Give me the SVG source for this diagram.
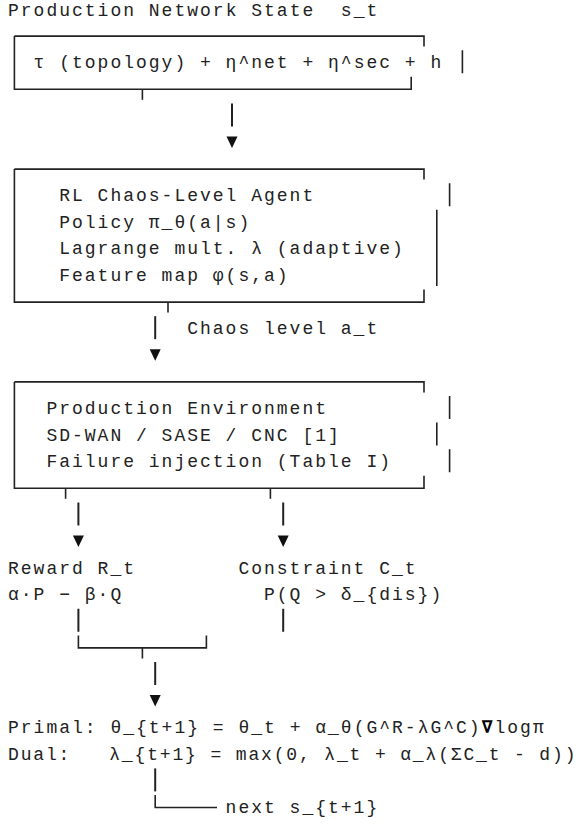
<svg xmlns="http://www.w3.org/2000/svg" width="580" height="825" viewBox="0 0 580 825">
<style>
text{font-family:"Liberation Mono","DejaVu Sans Mono",monospace;font-size:18px;letter-spacing:2px;fill:#222;white-space:pre}
text.tight{letter-spacing:1.85px}
.bold{font-weight:bold;fill:#000}
.b{fill:none;stroke:#222;stroke-width:1.6}
.c{fill:none;stroke:#222;stroke-width:2}
.h{fill:#111}
</style>
<rect width="580" height="825" fill="#fff"/>
<text x="8" y="16" xml:space="preserve">Production Network State  s_t</text>
<g id="state">
<path class="b" d="M14.4 36.1H424V46.6M14.4 36.1V89.3H411.2V76.8M462.4 50.2V73.2"/>
<text x="33.6" y="68.2">τ (topology) + η^net + η^sec + h</text>
</g>
<g id="agent">
<path class="b" d="M14.4 169.1H424V179.6M14.4 169.1V302.1H424V289.6M449.6 183.2V206.2M436.8 209.8V286"/>
<text x="59.2" y="201.2">RL Chaos-Level Agent</text>
<text x="59.2" y="227.8">Policy π_θ(a|s)</text>
<text x="59.2" y="254.4">Lagrange mult. λ (adaptive)</text>
<text x="59.2" y="281">Feature map φ(s,a)</text>
</g>
<g id="env">
<path class="b" d="M14.4 381.9H424V392.4M14.4 381.9V488.3H424V475.8M449.6 396V419M436.8 422.6V445.6M449.6 449.2V472.2"/>
<text x="46.4" y="414">Production Environment</text>
<text x="46.4" y="440.6">SD-WAN / SASE / CNC [1]</text>
<text x="46.4" y="467.2">Failure injection (Table I)</text>
</g>
<g id="reward">
<text x="8" y="573.6">Reward R_t</text>
<text x="8" y="600.2">α·P − β·Q</text>
</g>
<g id="constraint">
<text x="238.4" y="573.6">Constraint C_t</text>
<text x="264" y="600.2">P(Q &gt; δ_{dis})</text>
</g>
<g id="update">
<text x="8" y="733.2" xml:space="preserve">Primal: θ_{t+1} = θ_t + α_θ(G^R-λG^C)<tspan class="bold">∇</tspan>logπ</text>
<text class="tight" x="8" y="759.8" xml:space="preserve">Dual:   λ_{t+1} = max(0, λ_t + α_λ(ΣC_t - d))</text>
</g>
<g id="connectors">
<path class="b" d="M142.4 89.3V99.8"/>
<path class="c" d="M232 103.4V126.4"/>
<path class="h" d="M226.5 136.5H237.5L232 148Z"/>
<path class="b" d="M168 302.1V312.6"/>
<path class="c" d="M155.2 316.2V339.2"/>
<text x="187.2" y="334.2">Chaos level a_t</text>
<path class="h" d="M149.7 349.3H160.7L155.2 360.8Z"/>
<path class="b" d="M65.6 488.3V498.8M270.4 488.3V498.8"/>
<path class="c" d="M78.4 502.4V525.4M283.2 502.4V525.4"/>
<path class="h" d="M72.9 535.5H83.9L78.4 547ZM277.7 535.5H288.7L283.2 547Z"/>
<path class="c" d="M78.4 608.8V631.8M283.2 608.8V631.8"/>
<path class="b" d="M78.4 635.4V647.9H206.4V635.4M142.4 647.9V658.4"/>
<path class="c" d="M155.2 662V685"/>
<path class="h" d="M149.7 695.1H160.7L155.2 706.6Z"/>
<path class="c" d="M155.2 768.4V791.4"/>
<path class="b" d="M155.2 795V807.5H217"/>
<text x="225.6" y="813">next s_{t+1}</text>
</g>
</svg>
